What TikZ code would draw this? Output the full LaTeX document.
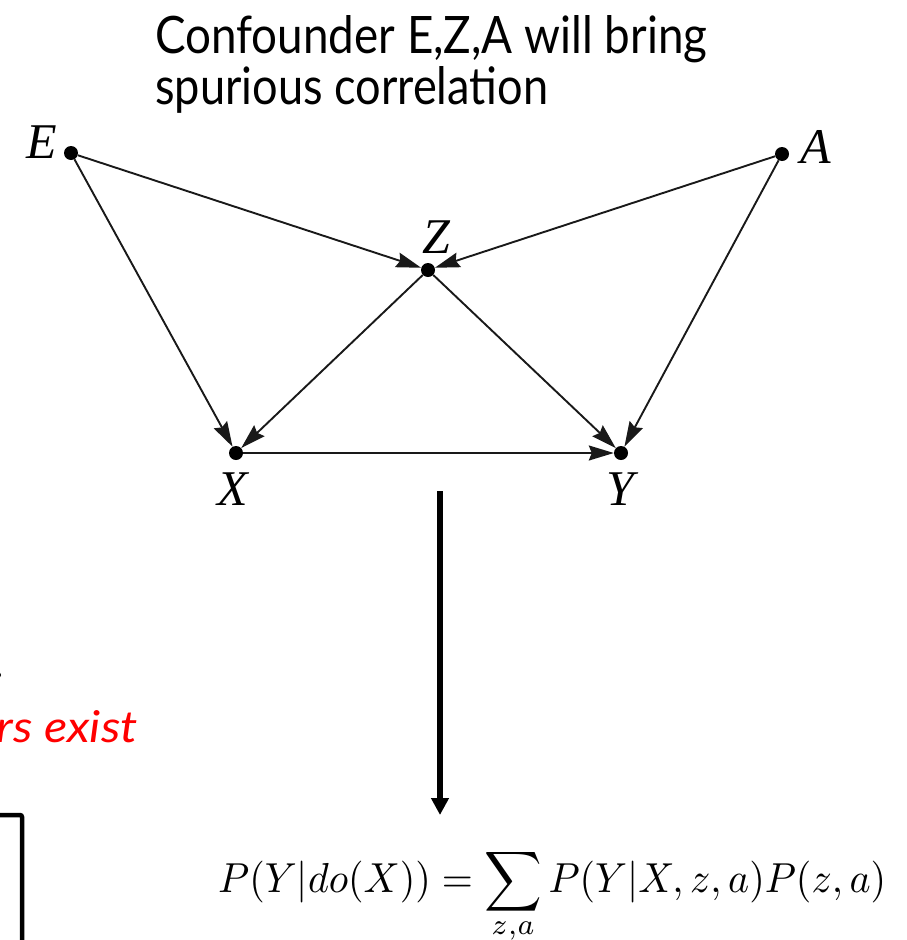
\documentclass[tikz,border=0pt]{standalone}
\usepackage{fontspec}
\setmainfont{Lato}
\newfontfamily\seriffont{Liberation Serif}
\usetikzlibrary{arrows.meta}
\begin{document}
\begin{tikzpicture}[x=1pt,y=-1pt,
  dot/.style={circle,fill=black,inner sep=0pt,minimum size=14pt},
  lab/.style={inner sep=0pt,font=\fontsize{50}{50}\selectfont\seriffont\itshape},
  edge/.style={line width=1.9pt,draw=black!90,-{Stealth[length=25pt,width=15pt,inset=3pt]}},
  bigarrow/.style={line width=5.5pt,-{Triangle[length=17pt,width=17pt]}},
  plain/.style={anchor=base west,inner sep=0pt}]
\useasboundingbox (0,0) rectangle (907,940);
\clip (0,0) rectangle (907,940);
% title
\node[plain] (t1) at (155,53) {\resizebox{552pt}{38pt}{Confounder E,Z,A will bring}};
\node[plain] (t2) at (155,104) {\resizebox{393pt}{38pt}{spurious correlation}};
% graph nodes
\node[dot] (E) at (71,153) {};
\node[dot] (Z) at (428,270) {};
\node[dot] (A) at (782,154) {};
\node[dot] (X) at (236,453) {};
\node[dot] (Y) at (621,453) {};
\node[lab] (lE) at (42,142) {E};
\node[lab] (lZ) at (436,237) {Z};
\node[lab] (lA) at (816,147) {A};
\node[lab] (lX) at (233,489) {X};
\node[lab] (lY) at (620,489) {Y};
\draw[edge] (E) -- (Z);
\draw[edge] (A) -- (Z);
\draw[edge] (E) -- (X);
\draw[edge] (A) -- (Y);
\draw[edge] (Z) -- (X);
\draw[edge] (Z) -- (Y);
\draw[edge] (X) -- (Y);
% big arrow
\coordinate (bt) at (440,491);
\coordinate (bb) at (440,815);
\draw[bigarrow] (bt) -- (bb);
% formula
\node[plain] (f) at (218,892) {\resizebox{668pt}{44pt}{$\displaystyle P(Y|do(X))=\sum_{\raisebox{0pt}[0pt][0pt]{\raisebox{3.8pt}{$\scriptstyle z,a$}}}P(Y|X,z,a)P(z,a)$}};
% partial left content
\fill (-2,675) circle (3);
\node[anchor=base east,inner sep=0pt,text=red] (r1) at (138,742) {\resizebox{141pt}{32pt}{\itshape rs exist}};
\draw[line width=4.5pt,rounded corners=2pt] (-10,815) -- (22,815) -- (22,960);
\end{tikzpicture}
\end{document}
